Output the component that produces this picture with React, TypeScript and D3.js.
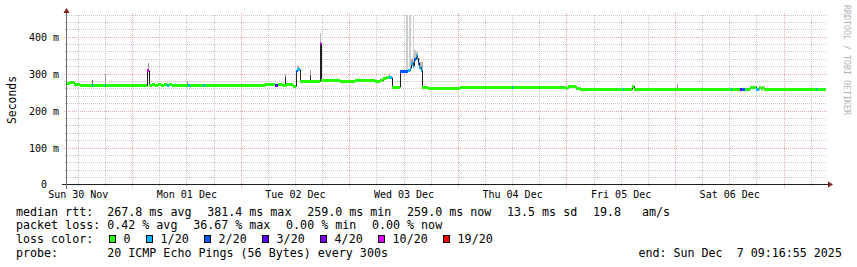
import React from 'react';
import * as d3 from 'd3';

// ---------- data ----------
const startClockHours = 9 + 16 / 60 + 55 / 3600; // Sun 30 Nov 09:16:55
const spanHours = 168;
const yMax = 460;

const xTickLabels = ['Sun 30 Nov', 'Mon 01 Dec', 'Tue 02 Dec', 'Wed 03 Dec', 'Thu 04 Dec', 'Fri 05 Dec', 'Sat 06 Dec'];
const yTickValues = [0, 100, 200, 300, 400];
const yTickLabels = ['0  ', '100 m', '200 m', '300 m', '400 m'];

// median rtt as a step series (hours since start, ms, lost pings of 20)
const stepHours = [0, 0.88, 1.77, 3.09, 5.75, 5.97, 8.62, 8.84, 17.91, 18.24,
  19.01, 19.67, 20.34, 21.0, 21.66, 22.33, 22.77, 23.43, 26.97, 27.41,
  30.28, 30.73, 43.99, 44.65, 46.2, 46.86, 47.97, 48.74, 49.52, 50.18,
  50.84, 51.17, 51.62, 55.04, 56.04, 56.37, 60.57, 63.88, 67.2, 68.3,
  69.41, 70.07, 70.74, 71.4, 72.06, 73.83, 75.6, 76.04, 76.37, 76.71,
  76.93, 77.26, 77.59, 77.92, 78.14, 78.47, 78.8, 80.02, 87.09, 98.59,
  98.81, 110.53, 110.97, 112.74, 113.62, 123.02, 123.24, 125.12, 125.45, 147.0,
  147.22, 148.99, 149.54, 150.09, 151.2, 152.53, 153.19, 153.63, 153.96, 154.29,
  163.8, 164.24, 165.79, 166.01];
const stepMedian = [276, 278, 272, 268, 268, 268, 268, 268, 309, 268,
  272, 269, 273, 270, 273, 268, 272, 268, 268, 268,
  268, 268, 271, 273, 269, 273, 268, 273, 271, 267,
  306, 312, 279, 281, 383, 282, 281, 282, 283, 281,
  283, 287, 290, 290, 265, 308, 309, 316, 330, 322,
  340, 350, 343, 330, 318, 310, 265, 261, 265, 265,
  265, 262, 266, 262, 259, 259, 259, 267, 259, 259,
  259, 259, 259, 259, 265, 259, 263, 259, 263, 259,
  258, 259, 259, 259];
const stepLoss = [0, 0, 0, 0, 1, 0, 1, 0, 7, 0,
  0, 0, 0, 0, 0, 1, 0, 0, 1, 0,
  1, 0, 0, 0, 3, 0, 0, 0, 0, 0,
  2, 1, 0, 0, 7, 0, 0, 0, 0, 0,
  0, 0, 0, 1, 0, 2, 1, 1, 1, 1,
  2, 1, 1, 2, 1, 1, 0, 0, 0, 1,
  0, 0, 0, 0, 0, 1, 0, 0, 0, 1,
  0, 3, 2, 0, 0, 1, 0, 0, 0, 0,
  0, 0, 1, 0];

// smoke (ping spread) columns
const smokeFrom = [5.68, 8.62, 18.02, 26.64, 48.52, 51.06, 53.94, 56.15, 71.4, 75.05, 75.93, 76.6, 76.26, 76.93, 77.37, 77.81, 78.25, 135.06, 48.52, 53.94];
const smokeTo = [5.9, 8.84, 18.24, 26.86, 48.74, 51.5, 54.16, 56.37, 71.62, 75.49, 76.26, 76.93, 76.6, 77.37, 77.81, 78.25, 78.91, 135.28, 48.74, 54.16];
const smokeLow = [270, 270, 309, 270, 270, 312, 280, 383, 290, 310, 318, 325, 322, 340, 345, 325, 310, 262, 270, 280];
const smokeHigh = [283, 300, 331, 282, 300, 321, 310, 411, 300, 460, 460, 460, 340, 365, 362, 345, 334, 273, 293, 297];
const smokeDensity = [0.6, 0.35, 0.35, 0.4, 0.3, 0.3, 0.3, 0.22, 0.3, 0.1, 0.1, 0.1, 0.35, 0.15, 0.15, 0.15, 0.22, 0.4, 0.95, 0.95];

const lossLevels = [0, 1, 2, 3, 4, 10, 19];
const lossLabels = ['0', '1/20', '2/20', '3/20', '4/20', '10/20', '19/20'];
const lossColors = ['#26ff00', '#00b8ff', '#0059ff', '#5e00ff', '#7e00ff', '#dd00ff', '#ff0000'];

const rttLegend = ['median rtt:  267.8 ms avg', '381.4 ms max', '259.0 ms min', '259.0 ms now', '13.5 ms sd', '19.8   am/s'];
const lossLegend = ['packet loss: 0.42 % avg', '36.67 % max', '0.00 % min', '0.00 % now'];
const lossColorTitle = 'loss color:';
const probeText = 'probe:       20 ICMP Echo Pings (56 Bytes) every 300s';
const endText = 'end: Sun Dec  7 09:16:55 2025';
const watermark = 'RRDTOOL / TOBI OETIKER';
const yAxisTitle = 'Seconds';

// ---------- chart ----------
const FONT = "'DejaVu Sans Mono', monospace";

export default function App() {
  const W = 857, H = 267;
  const X0 = 66, X1 = 826, Y0 = 185, Y1 = 15;
  const x = d3.scaleLinear().domain([0, spanHours]).range([X0, X1]);
  const y = d3.scaleLinear().domain([0, yMax]).range([Y0, Y1]);
  const axisY = Y0 - 0.5;
  const axisX = X0 + 0.5;
  const gridY = (v: number) => Math.floor(y(v)) + 0.5;
  const colX = (h: number) => Math.round(x(h));

  const lossColor = (l: number) => {
    const i = lossLevels.findIndex((lv) => l <= lv);
    return lossColors[i < 0 ? lossColors.length - 1 : i];
  };
  const smokeColor = d3.interpolateRgb('#e2e2e2', '#1e1e1e');

  // vertical grid every 6h, major at midnight, labels at noon
  const firstGrid = 12 - startClockHours;
  const gridHours = d3.range(firstGrid, spanHours, 6);
  const minorY = d3.range(20, yMax + 1, 20).filter((v) => v % 100 !== 0);

  const gridCol = '#c8c8c8';
  const mgridCol = '#f0a6a6';

  // median line
  const medPts: [number, number][] = stepHours.map((h, i) => [colX(h) + 0.5, y(stepMedian[i])]);
  medPts.push([colX(spanHours), y(stepMedian[stepMedian.length - 1])]);
  const medPath = d3.line().curve(d3.curveStepAfter)(medPts) || '';

  // legend layout
  const charW = 7.02;
  const gap = 15.7;
  const legSize = charW / 0.60205;
  const base = [215.6, 229.4, 243.3, 257.1];
  const layoutRow = (items: string[]) => {
    let cx = 16;
    return items.map((s) => {
      const r = { x: cx, s };
      cx += s.length * charW + gap;
      return r;
    });
  };
  const rttItems = layoutRow(rttLegend);
  const lossItems = layoutRow(lossLegend);
  const colorItems: { bx: number; tx: number; s: string; c: string }[] = [];
  {
    let cx = 16 + lossColorTitle.length * charW + 15.5;
    lossLabels.forEach((s, i) => {
      const bx = Math.round(cx);
      const tx = bx + 14.6;
      colorItems.push({ bx, tx, s, c: lossColors[i] });
      cx = tx + s.length * charW + 15.3;
    });
  }

  const textStyle: React.CSSProperties = { whiteSpace: 'pre' };

  return (
    <svg width={W} height={H} viewBox={`0 0 ${W} ${H}`} style={{ position: 'absolute', left: 0, top: 0, display: 'block' }} fontFamily={FONT}>
      <rect x={0} y={0} width={W} height={H} fill="#ffffff" />

      {/* horizontal grid */}
      {minorY.map((v) => (
        <line key={'hy' + v} x1={X0 - 1} x2={X1 + 1} y1={gridY(v)} y2={gridY(v)} stroke={gridCol} strokeWidth={1} strokeDasharray="1,1" />
      ))}
      {yTickValues.filter((v) => v > 0).map((v) => (
        <line key={'my' + v} x1={X0 - 2} x2={X1 + 2} y1={gridY(v)} y2={gridY(v)} stroke={mgridCol} strokeWidth={1} strokeDasharray="1,1" />
      ))}
      {/* vertical grid */}
      {gridHours.map((h, k) => {
        const major = k % 4 === 2;
        const gx = Math.floor(x(h)) + 0.5;
        return (
          <line key={'vx' + k} x1={gx} x2={gx} y1={major ? Y0 + 3 : Y0 + 1} y2={major ? Y1 - 2 : Y1 - 1}
            stroke={major ? mgridCol : gridCol} strokeWidth={1} strokeDasharray="1,1" />
        );
      })}

      {/* smoke */}
      {smokeFrom.map((f, i) => {
        const x0 = colX(f);
        const x1 = Math.max(x0 + 1, colX(smokeTo[i]));
        const yt = Math.round(y(smokeHigh[i]));
        const yb = Math.round(y(smokeLow[i]));
        return <rect key={'sm' + i} x={x0} y={yt} width={x1 - x0} height={Math.max(1, yb - yt)} fill={smokeColor(smokeDensity[i])} />;
      })}

      {/* median line */}
      <path d={medPath} fill="none" stroke="#202020" strokeWidth={1} />

      {/* loss coloured median band */}
      {stepHours.map((h, i) => {
        const x0 = colX(h);
        const x1 = colX(i + 1 < stepHours.length ? stepHours[i + 1] : spanHours);
        const yt = Math.round(y(stepMedian[i]) - 1.5);
        return <rect key={'bd' + i} x={x0} y={yt} width={Math.max(1, x1 - x0)} height={3} fill={lossColor(stepLoss[i])} />;
      })}

      {/* axes */}
      <line x1={X0 - 4} x2={X1 + 4} y1={axisY} y2={axisY} stroke="#1f1f1f" strokeWidth={1} />
      <line x1={axisX} x2={axisX} y1={Y0 + 4} y2={Y1 - 4} stroke="#6a6a6a" strokeWidth={1} />
      <polygon points={`${X1 + 2},${axisY - 3} ${X1 + 2},${axisY + 3} ${X1 + 7},${axisY}`} fill="#801f1f" />
      <polygon points={`${axisX - 3},${Y1 - 2} ${axisX + 3},${Y1 - 2} ${axisX},${Y1 - 7}`} fill="#801f1f" />

      {/* y tick labels */}
      {yTickValues.map((v, i) => (
        <text key={'yl' + v} x={59} y={(v === 0 ? axisY : gridY(v)) + 3.6} fontSize={10} textAnchor="end" fill="#000" style={textStyle} xmlSpace="preserve">
          {yTickLabels[i]}
        </text>
      ))}
      {/* x tick labels */}
      {xTickLabels.map((s, i) => (
        <text key={'xl' + i} x={x(firstGrid + 24 * i)} y={198} fontSize={10} textAnchor="middle" fill="#000">
          {s}
        </text>
      ))}

      {/* axis title */}
      <text transform={`translate(15.5, ${(Y0 + Y1) / 2}) rotate(-90)`} fontSize={11.4} textAnchor="middle" fill="#000">
        {yAxisTitle}
      </text>
      {/* watermark */}
      <text transform={`translate(843.5, 5) rotate(90)`} fontSize={8.3} fill="#b3b3b3">
        {watermark}
      </text>

      {/* legend */}
      {rttItems.map((it, i) => (
        <text key={'r' + i} x={it.x} y={base[0]} fontSize={legSize} fill="#000" style={textStyle} xmlSpace="preserve">{it.s}</text>
      ))}
      {lossItems.map((it, i) => (
        <text key={'l' + i} x={it.x} y={base[1]} fontSize={legSize} fill="#000" style={textStyle} xmlSpace="preserve">{it.s}</text>
      ))}
      <text x={16} y={base[2]} fontSize={legSize} fill="#000" style={textStyle}>{lossColorTitle}</text>
      {colorItems.map((it, i) => (
        <g key={'c' + i}>
          <rect x={it.bx + 0.5} y={235.5} width={6} height={7} fill={it.c} stroke="#000" strokeWidth={1} />
          <text x={it.tx} y={base[2]} fontSize={legSize} fill="#000">{it.s}</text>
        </g>
      ))}
      <text x={16} y={base[3]} fontSize={legSize} fill="#000" style={textStyle} xmlSpace="preserve">{probeText}</text>
      <text x={638.4} y={base[3]} fontSize={legSize} fill="#000" style={textStyle} xmlSpace="preserve">{endText}</text>
    </svg>
  );
}
